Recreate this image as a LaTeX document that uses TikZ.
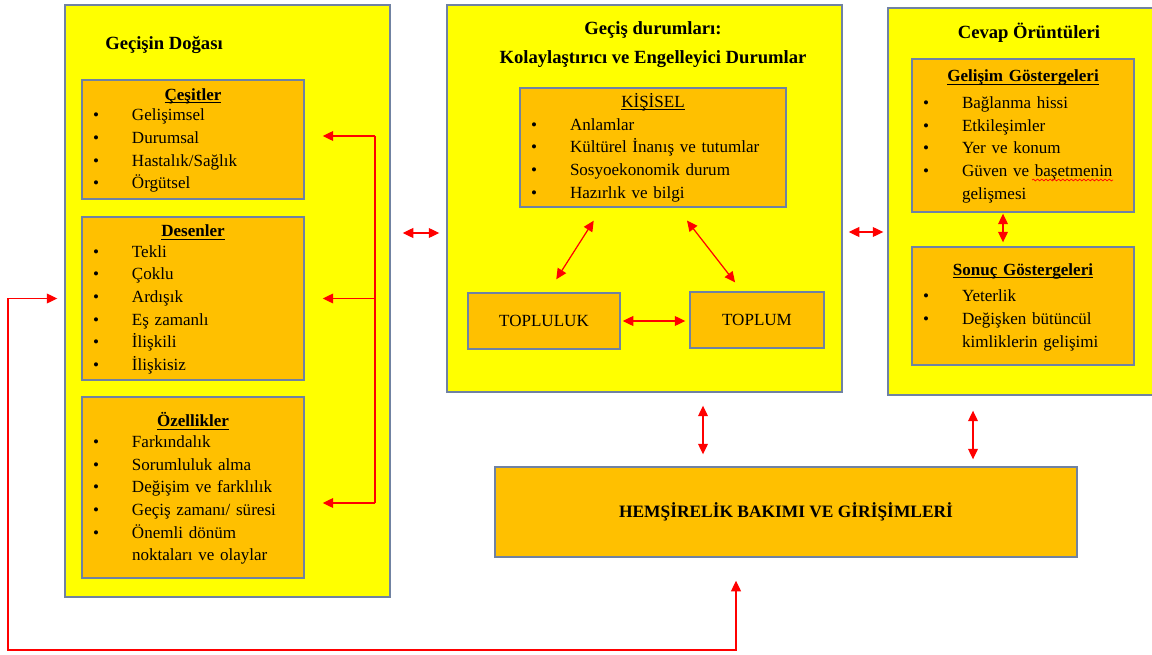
\documentclass[tikz,border=0pt]{standalone}
\usepackage{fontspec}
\setmainfont{Liberation Serif}
\usetikzlibrary{arrows.meta,decorations.pathmorphing}

\definecolor{boxyellow}{RGB}{255,255,0}
\definecolor{boxorange}{RGB}{255,192,0}
\definecolor{boxline}{RGB}{112,130,162}

\newlength{\pxl}
\setlength{\pxl}{0.02cm}
\newcommand{\itm}{\makebox[39\pxl][l]{\textbullet}}
\newcommand{\cont}{\hspace*{39\pxl}}
\newcommand{\undl}[1]{\setbox0\hbox{#1}\rlap{\rule[-1.7pt]{\wd0}{0.55pt}}\box0}
\newcommand{\hdr}[1]{\raisebox{-2\pxl}[\height][\depth]{\makebox[\linewidth]{\undl{\textbf{#1}}}}}

\tikzset{
  outer/.style={draw=boxline, fill=boxyellow, line width=0.8pt, inner sep=0pt},
  inbox/.style={draw=boxline, fill=boxorange, line width=0.8pt, align=left,
    text width=200\pxl, inner xsep=11\pxl, inner ysep=0pt, minimum width=222\pxl},
  plainbox/.style={draw=boxline, fill=boxorange, line width=0.8pt, inner sep=0pt, align=center},
  title/.style={font=\fontsize{10.6}{16.4}\selectfont\bfseries, align=center, inner sep=0pt},
  dbl/.style={red, line width=0.7pt, {Triangle[length=6pt,width=5.6pt]}-{Triangle[length=6pt,width=5.6pt]}},
  arr/.style={red, line width=0.7pt, -{Triangle[length=6pt,width=5.6pt]}}
}

\begin{document}
\begin{tikzpicture}[x=0.02cm, y=-0.02cm, font=\fontsize{9.7}{12.9}\selectfont]
        \useasboundingbox (0,0) rectangle (1152,655);
        \clip (0,0) rectangle (1152,655);

        % Nature of the transition
        \node [outer, minimum width=325\pxl, minimum height=592\pxl] (nat) at (227.5,301) {};
        \node [title] (natt) at (164,45) {Geçişin Doğası};
        \node [inbox, minimum height=119\pxl] (cesit) at (193,139.5)
            {\hdr{Çeşitler}\\ \itm Gelişimsel\\ \itm Durumsal\\ \itm Hastalık/Sağlık\\ \itm Örgütsel};
        \node [inbox, minimum height=163\pxl] (desen) at (193,298.5)
            {\hdr{Desenler}\\ \itm Tekli\\ \itm Çoklu\\ \itm Ardışık\\ \itm Eş zamanlı\\ \itm İlişkili\\ \itm İlişkisiz};
        \node [inbox, minimum height=181\pxl] (ozel) at (193,487.5)
            {\hdr{Özellikler}\\ \itm Farkındalık\\ \itm Sorumluluk alma\\ \itm Değişim ve farklılık\\
             \itm Geçiş zamanı/ süresi\\ \itm Önemli dönüm\\ \cont noktaları ve olaylar};

        % bracket of arrows
        \coordinate (brk1) at (375,136);
        \coordinate (brk3) at (375,503);
        \draw [red, line width=0.7pt] (brk1) -- (brk3);
        \draw [arr, shorten >=18\pxl] (brk1) -- (cesit.east |- brk1);
        \draw [arr, shorten >=18\pxl] (brk1 |- desen.east) -- (desen.east);
        \draw [arr, shorten >=18\pxl] (brk3) -- (ozel.east |- brk3);

        % Transition conditions
        \node [outer, minimum width=395\pxl, minimum height=387\pxl] (sit) at (644.5,198.5) {};
        \node [title] (sitt) at (653,45) {Geçiş durumları:\\Kolaylaştırıcı ve Engelleyici Durumlar};
        \node [inbox, text width=244\pxl, minimum width=266\pxl, minimum height=119\pxl] (kisi) at (653,147.5)
            {\makebox[\linewidth]{\undl{KİŞİSEL}}\\ \itm Anlamlar\\ \itm Kültürel İnanış ve tutumlar\\
             \itm Sosyoekonomik durum\\ \itm Hazırlık ve bilgi};
        \node [plainbox, minimum width=152\pxl, minimum height=56\pxl] (topl) at (544,321) {TOPLULUK};
        \node [plainbox, minimum width=134\pxl, minimum height=56\pxl] (tplm) at (757,320) {TOPLUM};

        \draw [dbl, shorten <=15.4\pxl, shorten >=15.4\pxl] ([xshift=-51\pxl]kisi.south) -- ([xshift=4\pxl]topl.north);
        \draw [dbl, shorten <=16.3\pxl, shorten >=11.3\pxl] ([xshift=24\pxl]kisi.south) -- ([xshift=-15\pxl]tplm.north);
        \draw [dbl, shorten <=2\pxl, shorten >=4\pxl] (topl.east) -- (topl.east -| tplm.west);

        % Response patterns
        \node [outer, minimum width=266\pxl, minimum height=387\pxl] (resp) at (1021,201.5) {};
        \node [title] (respt) at (1029,33) {Cevap Örüntüleri};
        \node [inbox, minimum height=153\pxl] (gelis) at (1023,135.5)
            {\vspace*{6\pxl}\hdr{Gelişim Göstergeleri}\\ \itm Bağlanma hissi\\ \itm Etkileşimler\\ \itm Yer ve konum\\
             \itm Güven ve başetmenin\\ \cont gelişmesi};
        \node [inbox, minimum height=118\pxl] (sonuc) at (1023,306)
            {\vspace*{6\pxl}\hdr{Sonuç Göstergeleri}\\ \itm Yeterlik\\ \itm Değişken bütüncül\\ \cont kimliklerin gelişimi};
        \draw [red, line width=0.4pt, decorate, decoration={snake, amplitude=0.5pt, segment length=2.4pt}]
            (1032,180) -- (1113,180);
        \draw [dbl, shorten <=1\pxl, shorten >=4\pxl] ([xshift=-20\pxl]gelis.south) -- ([xshift=-20\pxl]gelis.south |- sonuc.north);

        % Nursing care
        \node [plainbox, minimum width=582\pxl, minimum height=90\pxl, font=\fontsize{9.9}{13}\selectfont\bfseries] (hem) at (786,512)
            {HEMŞİRELİK BAKIMI VE GİRİŞİMLERİ};

        % links between the parts
        \draw [dbl, shorten <=12\pxl, shorten >=7\pxl] ([yshift=68\pxl]nat.east) -- ([yshift=68\pxl]nat.east -| sit.west);
        \draw [dbl, shorten <=6\pxl, shorten >=4\pxl] ([yshift=-33.5\pxl]sit.east) -- ([yshift=-33.5\pxl]sit.east -| resp.west);
        \draw [dbl, shorten <=13\pxl, shorten >=12\pxl] ([xshift=58.5\pxl]sit.south) -- ([xshift=58.5\pxl]sit.south |- hem.north);
        \draw [dbl, shorten <=15\pxl, shorten >=7\pxl] ([xshift=-48\pxl]resp.south) -- ([xshift=-48\pxl]resp.south |- hem.north);

        % feedback loop
        \coordinate (lpl) at (8,650);
        \draw [dbl, shorten <=23\pxl, shorten >=7\pxl] ([xshift=-50\pxl]hem.south) -- ([xshift=-50\pxl]hem.south |- lpl)
            -- (lpl) |- (nat.west |- desen.west);
\end{tikzpicture}
\end{document}
